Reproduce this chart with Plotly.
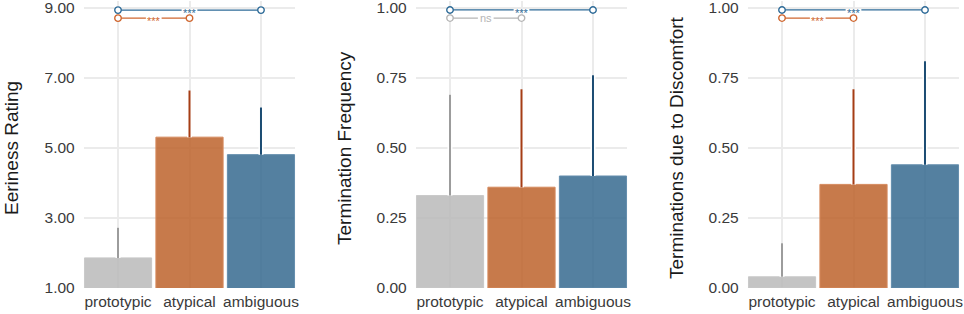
import plotly.graph_objects as go

categories = ["prototypic", "atypical", "ambiguous"]

eeriness_mean = [1.86, 5.31, 4.81]
eeriness_sd = [0.86, 1.33, 1.35]
termination_mean = [0.33, 0.36, 0.40]
termination_sd = [0.36, 0.35, 0.36]
discomfort_mean = [0.04, 0.37, 0.44]
discomfort_sd = [0.12, 0.34, 0.37]

titles = ["Eeriness Rating", "Termination Frequency", "Terminations due to Discomfort"]
y_ticks_1 = [1, 3, 5, 7, 9]
y_ticks_2 = [0, 0.25, 0.5, 0.75, 1.0]

# brackets: (from, to, label, level, colour key)
brackets_1 = [(0, 2, "***", 8.94, "blue"), (0, 1, "***", 8.71, "orange")]
brackets_2 = [(0, 2, "***", 0.993, "blue"), (0, 1, "ns", 0.964, "gray")]
brackets_3 = [(0, 2, "***", 0.993, "blue"), (0, 1, "***", 0.964, "orange")]

bar_fill = ["rgba(186,186,186,0.85)", "rgba(189,99,44,0.85)", "rgba(54,106,143,0.85)"]
bar_edge = ["rgba(200,200,200,1)", "rgba(214,138,94,1)", "rgba(98,140,172,1)"]
err_col = ["#9c9c9c", "#a53d15", "#1c4c73"]
br_col = {"blue": "#2e6b98", "orange": "#cf662f", "gray": "#b5b5b5"}

panels = [
    (eeriness_mean, eeriness_sd, y_ticks_1, [1, 9.2], brackets_1),
    (termination_mean, termination_sd, y_ticks_2, [0, 1.025], brackets_2),
    (discomfort_mean, discomfort_sd, y_ticks_2, [0, 1.025], brackets_3),
]

W, H = 964, 314
x_dom_px = [(83.7, 295.3), (415.7, 627.3), (747.7, 959.3)]
title_x_px = [11, 344, 676]
y_dom = [26 / H, 313 / H]
gap = 0.11

fig = go.Figure()
font_family = "Liberation Sans, Arial, sans-serif"

for p, (means, sds, yt, yr, brs) in enumerate(panels):
    xa = "x" if p == 0 else f"x{p+1}"
    ya = "y" if p == 0 else f"y{p+1}"
    xs = list(range(len(categories)))
    for i in xs:
        fig.add_trace(go.Bar(
            x=[i], y=[means[i]], width=0.94, xaxis=xa, yaxis=ya,
            marker=dict(color=bar_fill[i], line=dict(color=bar_edge[i], width=1)),
            showlegend=False, hoverinfo="skip"))
    for i in xs:
        fig.add_trace(go.Scatter(
            x=[i], y=[means[i]], mode="markers", xaxis=xa, yaxis=ya,
            marker=dict(size=1, opacity=0),
            error_y=dict(type="data", array=[sds[i]], arrayminus=[0], symmetric=False,
                         width=0, thickness=5, color="white"),
            showlegend=False, hoverinfo="skip"))
        fig.add_trace(go.Scatter(
            x=[i], y=[means[i]], mode="markers", xaxis=xa, yaxis=ya,
            marker=dict(size=1, opacity=0),
            error_y=dict(type="data", array=[sds[i]], arrayminus=[0], symmetric=False,
                         width=0, thickness=2, color=err_col[i]),
            showlegend=False, hoverinfo="skip"))
    for (a, b, lab, lev, ck) in brs:
        c = br_col[ck]
        mid = (a + b) / 2
        fig.add_trace(go.Scatter(
            x=[a, mid - gap, None, mid + gap, b], y=[lev, lev, None, lev, lev],
            mode="lines", xaxis=xa, yaxis=ya, line=dict(color=c, width=1.3),
            showlegend=False, hoverinfo="skip"))
        fig.add_trace(go.Scatter(
            x=[a, b], y=[lev, lev], mode="markers", xaxis=xa, yaxis=ya,
            marker=dict(color="white", size=6.5, line=dict(color=c, width=1.4)),
            showlegend=False, hoverinfo="skip", cliponaxis=False))
        fig.add_annotation(
            x=mid, y=lev, xref=xa, yref=ya, text=lab, showarrow=False,
            font=dict(family=font_family, size=11, color=c),
            yshift=-3 if lab != "ns" else 0)

    d = x_dom_px[p]
    fig.update_layout(**{
        ("xaxis" if p == 0 else f"xaxis{p+1}"): dict(
            domain=[d[0] / W, d[1] / W], range=[-0.48, 2.48],
            tickvals=xs, ticktext=categories, showgrid=True, gridcolor="#ebebeb",
            gridwidth=1.5, zeroline=False, showline=False, ticks="",
            tickfont=dict(family=font_family, size=15.5, color="#3a3a3a"),
            ticklabelstandoff=2, anchor=ya, fixedrange=True, automargin=False,
            ticklabeloverflow="allow"),
        ("yaxis" if p == 0 else f"yaxis{p+1}"): dict(
            domain=y_dom, range=yr, tickvals=yt, tickformat=".2f",
            showgrid=True, gridcolor="#ebebeb", gridwidth=1.5, zeroline=False,
            showline=False, ticks="",
            tickfont=dict(family=font_family, size=15.5, color="#3a3a3a"),
            ticklabelstandoff=8, anchor=xa, fixedrange=True, automargin=False,
            ticklabeloverflow="allow"),
    })
    fig.add_annotation(
        x=title_x_px[p] / W, y=(H - 148) / H, xref="paper", yref="paper",
        text=titles[p], textangle=-90, showarrow=False, xanchor="center", yanchor="middle",
        font=dict(family=font_family, size=19, color="#1a1a1a"))

fig.update_layout(
    template="none",
    width=W, height=H, margin=dict(l=0, r=0, t=0, b=0, pad=0),
    plot_bgcolor="white", paper_bgcolor="white", barmode="overlay",
    showlegend=False)

fig.write_html(
    "out.html", config={"displayModeBar": False},
    post_script="document.body.style.margin='0';document.body.style.padding='0';"
                "document.body.style.overflow='hidden';")
